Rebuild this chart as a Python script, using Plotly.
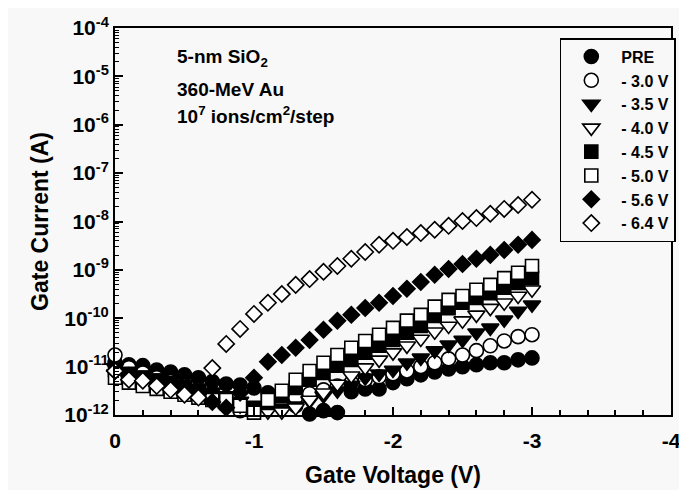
import plotly.graph_objects as go

# Gate voltage (V) for every measured point
gate_voltage = [0.0, -0.1, -0.2, -0.3, -0.4, -0.5, -0.6, -0.7, -0.8, -0.9,
                -1.0, -1.1, -1.2, -1.3, -1.4, -1.5, -1.6, -1.7, -1.8, -1.9,
                -2.0, -2.1, -2.2, -2.3, -2.4, -2.5, -2.6, -2.7, -2.8, -2.9, -3.0]

series_names = ["PRE", "- 3.0 V", "- 3.5 V", "- 4.0 V",
                "- 4.5 V", "- 5.0 V", "- 5.6 V", "- 6.4 V"]

# log10 of gate current (A)
log10_current_pre = [-10.92, -10.96, -10.98, -11.07, -11.11, -11.17, -11.23, -11.31, -11.36, -11.38,
                     -11.44, -11.54, -11.69, -11.81, -11.98, -11.91, -11.95, -11.52, -11.46, -11.46,
                     -11.33, -11.25, -11.17, -11.11, -11.05, -11.00, -10.96, -10.92, -10.92, -10.86, -10.82]
log10_current_3p0 = [-10.76, -11.02, -11.13, -11.23, -11.31, -11.40, -11.48, -11.60, -11.75, -11.91,
                     -11.89, -11.81, -11.73, -11.64, -11.56, -11.48, -11.40, -11.33, -11.27, -11.21,
                     -11.15, -11.09, -11.00, -10.92, -10.84, -10.76, -10.67, -10.57, -10.47, -10.38, -10.34]
log10_current_3p5 = [-11.02, -11.11, -11.17, -11.23, -11.29, -11.36, -11.44, -11.52, -11.60, -11.71,
                     -11.81, -11.89, -11.85, -11.81, -11.71, -11.60, -11.50, -11.38, -11.23, -11.15,
                     -11.07, -10.92, -10.82, -10.67, -10.55, -10.45, -10.30, -10.20, -10.03, -9.85, -9.72]
log10_current_4p0 = [-11.15, -11.23, -11.27, -11.36, -11.42, -11.50, -11.56, -11.64, -11.73, -11.81,
                     -11.85, -11.93, -11.93, -11.85, -11.69, -11.54, -11.36, -11.19, -11.02, -10.86,
                     -10.71, -10.57, -10.43, -10.28, -10.16, -10.05, -9.93, -9.79, -9.68, -9.54, -9.41]
log10_current_4p5 = [-11.07, -11.15, -11.23, -11.29, -11.38, -11.46, -11.54, -11.64, -11.75, -11.81,
                     -11.85, -11.75, -11.60, -11.44, -11.27, -11.13, -10.98, -10.86, -10.71, -10.57,
                     -10.45, -10.30, -10.16, -9.95, -9.79, -9.68, -9.58, -9.48, -9.37, -9.27, -9.17]
log10_current_5p0 = [-11.23, -11.33, -11.40, -11.46, -11.52, -11.58, -11.64, -11.69, -11.69, -11.81,
                     -11.95, -11.69, -11.50, -11.27, -11.09, -10.92, -10.76, -10.61, -10.47, -10.34,
                     -10.20, -10.05, -9.93, -9.76, -9.62, -9.54, -9.41, -9.31, -9.17, -9.06, -8.92]
log10_current_5p6 = [-11.09, -11.19, -11.27, -11.33, -11.40, -11.48, -11.56, -11.73, -11.85, -11.54,
                     -11.23, -10.90, -10.76, -10.61, -10.45, -10.24, -10.05, -9.93, -9.79, -9.68,
                     -9.54, -9.39, -9.25, -9.10, -8.98, -8.88, -8.77, -8.69, -8.59, -8.48, -8.38]
log10_current_6p4 = [-11.09, -11.27, -11.29, -11.40, -11.48, -11.58, -11.64, -11.03, -10.53, -10.22,
                     -9.91, -9.68, -9.50, -9.31, -9.19, -9.04, -8.92, -8.77, -8.63, -8.48,
                     -8.40, -8.32, -8.24, -8.17, -8.09, -7.99, -7.93, -7.84, -7.74, -7.66, -7.55]

all_series = [log10_current_pre, log10_current_3p0, log10_current_3p5, log10_current_4p0,
              log10_current_4p5, log10_current_5p0, log10_current_5p6, log10_current_6p4]

x_tick_vals = [0, -1, -2, -3, -4]
x_tick_text = ["0", "-1", "-2", "-3", "-4"]
y_exponents = [-12, -11, -10, -9, -8, -7, -6, -5, -4]

marker_styles = [
    ("circle", "black", 14),
    ("circle", "white", 14),
    ("triangle-down", "black", 15),
    ("triangle-down", "white", 15),
    ("square", "black", 13),
    ("square", "white", 13),
    ("diamond", "black", 12.5),
    ("diamond", "white", 12.5),
]

FONT = "Liberation Sans, Arial, Helvetica, sans-serif"
BG = "#f8f8f8"

fig = go.Figure()
for name, logs, (sym, fill, size) in zip(series_names, all_series, marker_styles):
    fig.add_trace(go.Scatter(
        x=gate_voltage,
        y=[10 ** v for v in logs],
        mode="markers",
        name=name,
        cliponaxis=False,
        marker=dict(symbol=sym, size=size, color=fill,
                    line=dict(color="black", width=1.6)),
    ))

notes = [
    ("5-nm SiO<sub>2</sub>", 0.922),
    ("360-MeV Au", 0.840),
    ("10<sup>7</sup> ions/cm<sup>2</sup>/step", 0.774),
]
for text, yy in notes:
    fig.add_annotation(text=text, xref="paper", yref="paper", x=0.108, y=yy,
                       xanchor="left", yanchor="middle", showarrow=False,
                       font=dict(family=FONT, size=19, color="black", weight="bold"))

fig.update_layout(
    width=687, height=490,
    margin=dict(l=107, r=24, t=20, b=83),
    paper_bgcolor=BG, plot_bgcolor=BG,
    font=dict(family=FONT, color="black", weight="bold"),
    legend=dict(
        x=0.800, y=0.974, xanchor="left", yanchor="top",
        bgcolor=BG, bordercolor="black", borderwidth=1.5,
        font=dict(family=FONT, size=16, color="black", weight="bold"),
        itemwidth=50,
    ),
    xaxis=dict(
        automargin=False,
        range=[0, -4], tickmode="array", tickvals=x_tick_vals, ticktext=x_tick_text,
        ticks="inside", ticklen=8, tickwidth=2, tickcolor="black",
        showline=True, linewidth=2, linecolor="black", mirror=True,
        showgrid=False, zeroline=False, ticklabelstandoff=6,
        minor=dict(ticks="inside", ticklen=5, tickwidth=1.5, tickcolor="black",
                   dtick=0.2, tick0=0, showgrid=False),
        tickfont=dict(family=FONT, size=21, color="black", weight="bold"),
        title=dict(text="Gate Voltage (V)", standoff=16,
                   font=dict(family=FONT, size=23, color="black", weight="bold")),
    ),
    yaxis=dict(
        automargin=False,
        type="log", range=[-12, -4], tickmode="array",
        tickvals=[10.0 ** e for e in y_exponents],
        ticktext=["10<sup>%d</sup>" % e for e in y_exponents],
        ticks="inside", ticklen=8, tickwidth=2, tickcolor="black",
        showline=True, linewidth=2, linecolor="black", mirror=True,
        showgrid=False, zeroline=False,
        minor=dict(ticks="inside", ticklen=4, tickwidth=1, tickcolor="black",
                   tickmode="array",
                   tickvals=[m * 10.0 ** e for e in y_exponents[:-1] for m in range(2, 10)],
                   showgrid=False),
        tickfont=dict(family=FONT, size=21, color="black", weight="bold"),
        title=dict(text="Gate Current (A)", standoff=9,
                   font=dict(family=FONT, size=23, color="black", weight="bold")),
    ),
)

fig.write_html("out.html")
